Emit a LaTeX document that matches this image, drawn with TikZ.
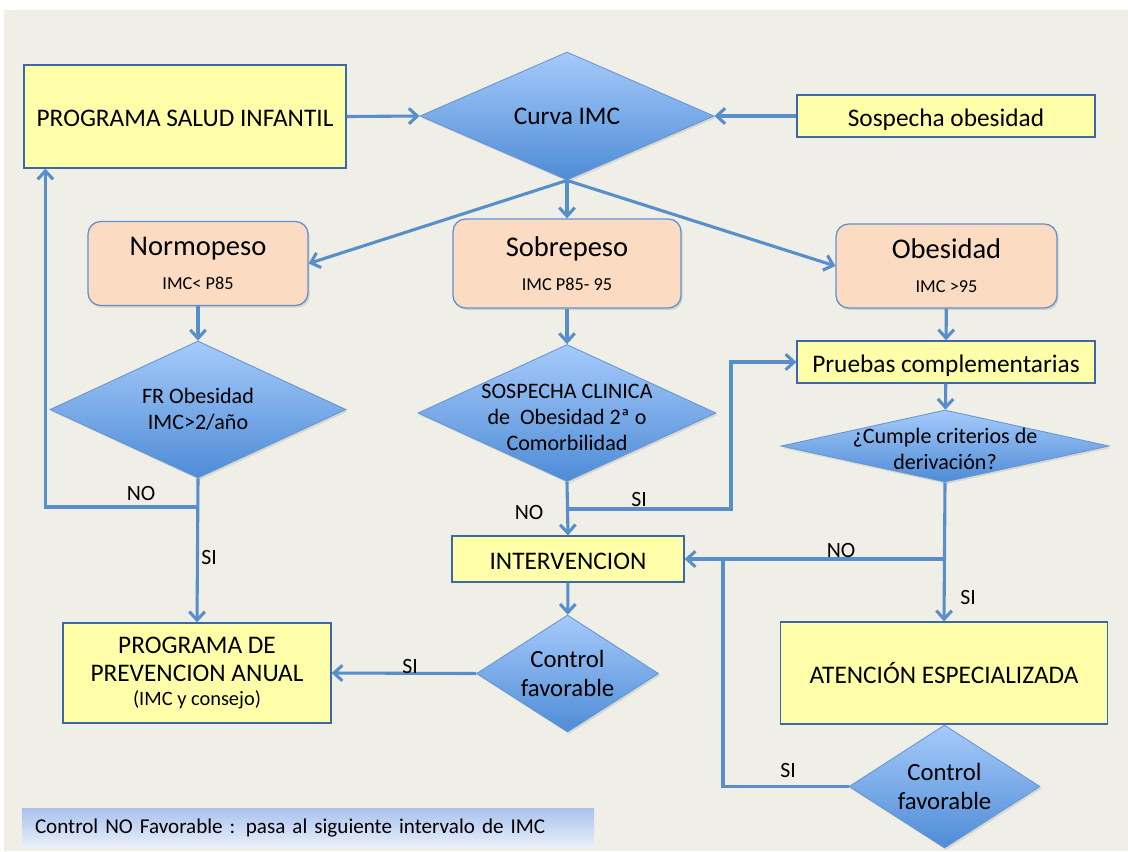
\documentclass[tikz,border=0pt]{standalone}
\usepackage{fontspec}
\setmainfont{Carlito}
\usetikzlibrary{shapes.geometric,arrows.meta,shadows}

\definecolor{bgpanel}{RGB}{239,238,231}
\definecolor{boxyellow}{RGB}{255,255,170}
\definecolor{boxedge}{RGB}{62,104,165}
\definecolor{peach}{RGB}{251,220,195}
\definecolor{peachedge}{RGB}{95,145,205}
\definecolor{diatop}{RGB}{166,202,250}
\definecolor{diabot}{RGB}{78,140,214}
\definecolor{diaedge}{RGB}{100,150,210}
\definecolor{flowblue}{RGB}{88,142,201}
\definecolor{legtop}{RGB}{168,194,238}
\definecolor{legbot}{RGB}{236,240,250}

\newcommand{\pxl}{0.025cm}

\tikzset{
  yellowbox/.style={draw=boxedge, fill=boxyellow, line width=0.9pt, inner sep=0pt,
    align=center, font=\fontsize{18}{20}\selectfont},
  oneline/.style={text height=15pt, text depth=0.6pt},
  peachbox/.style={draw=peachedge, fill=peach, rounded corners=9pt, line width=0.9pt,
    inner sep=0pt, align=center, font=\fontsize{20.3}{24}\selectfont,
    drop shadow={shadow xshift=1.2pt, shadow yshift=-1.5pt, opacity=0.25}},
  decision/.style={diamond, draw=diaedge, top color=diatop, bottom color=diabot,
    line width=0.6pt, inner sep=0pt,
    drop shadow={shadow xshift=1.2pt, shadow yshift=-1.5pt, opacity=0.2}},
  dtext/.style={align=center, font=\fontsize{15.7}{18.5}\selectfont},
  flow/.style={draw=flowblue, line width=2.2pt, -{Straight Barb[length=6pt, width=11pt]}},
  joinline/.style={draw=flowblue, line width=2.2pt},
  answer/.style={font=\fontsize{15.5}{17}\selectfont},
  legendbox/.style={top color=legtop, bottom color=legbot, draw=none, align=left,
    inner xsep=13*\pxl, inner ysep=0pt, font=\fontsize{15}{17}\selectfont},
}

\begin{document}
\begin{tikzpicture}[x=\pxl, y=-\pxl]
\useasboundingbox (0,0) rectangle (1128,851);
\fill[bgpanel] (4,10) rectangle (1128,851);

\node[yellowbox, oneline, minimum width=322*\pxl, minimum height=103*\pxl] (psi) at (185,116.5) {PROGRAMA SALUD INFANTIL};
\node[decision, minimum width=294*\pxl, minimum height=128*\pxl,
  label={[dtext, font=\fontsize{18}{20}\selectfont]center:Curva IMC}] (curva) at (567,116) {};
\node[yellowbox, oneline, minimum width=298*\pxl, minimum height=42*\pxl] (sosp) at (946,116) {Sospecha obesidad};

\node[peachbox, minimum width=220*\pxl, minimum height=84*\pxl] (normo) at (198,263.5)
  {Normopeso\\[0pt]{\fontsize{13}{15}\selectfont IMC< P85}};
\node[peachbox, minimum width=228*\pxl, minimum height=89*\pxl] (sobre) at (567,263.5)
  {Sobrepeso\\[0pt]{\fontsize{13}{15}\selectfont IMC P85- 95}};
\node[peachbox, minimum width=221*\pxl, minimum height=84*\pxl] (obes) at (946.5,266)
  {Obesidad\\[0pt]{\fontsize{13}{15}\selectfont IMC >95}};

\node[decision, minimum width=296*\pxl, minimum height=137*\pxl,
  label={[dtext]center:{FR Obesidad\\IMC>2/año}}] (fro) at (198,409.5) {};
\node[decision, minimum width=298*\pxl, minimum height=137*\pxl,
  label={[dtext, yshift=-4*\pxl]center:{SOSPECHA CLINICA\\de\ \ Obesidad 2ª o\\Comorbilidad}}] (sclin) at (567,413) {};
\node[yellowbox, oneline, minimum width=298*\pxl, minimum height=42*\pxl] (pruebas) at (946,362) {Pruebas complementarias};
\node[decision, minimum width=328*\pxl, minimum height=72*\pxl,
  label={[dtext, yshift=-3*\pxl]center:{¿Cumple criterios de\\derivación?}}] (cumple) at (945,446) {};

\node[yellowbox, oneline, minimum width=232*\pxl, minimum height=46*\pxl] (interv) at (568,559) {INTERVENCION};
\node[yellowbox, minimum width=268*\pxl, minimum height=100*\pxl] (ppa) at (197,673)
  {PROGRAMA DE\\PREVENCION ANUAL\\[-3pt]{\fontsize{14.5}{16}\selectfont (IMC y consejo)}};
\node[decision, minimum width=182*\pxl, minimum height=117*\pxl,
  label={[dtext, font=\fontsize{17.6}{20.5}\selectfont]center:{Control\\favorable}}] (ctrla) at (567.5,673.5) {};
\node[yellowbox, oneline, minimum width=327*\pxl, minimum height=102*\pxl] (aten) at (944,673) {ATENCIÓN ESPECIALIZADA};
\node[decision, minimum width=191*\pxl, minimum height=123*\pxl,
  label={[dtext, font=\fontsize{17.6}{20.5}\selectfont]center:{Control\\favorable}}] (ctrlb) at (944.5,786.5) {};

\node[legendbox, minimum height=40*\pxl, text width=546*\pxl] (leg) at (308,828)
  {Control NO Favorable : pasa al siguiente intervalo de IMC};

\coordinate (frono) at (198,507);
\coordinate (sclsi) at (567,509);
\coordinate (cumno) at (945,559);
\coordinate (backsi) at (723,559);

\draw[flow] (psi.east) -- (curva.west);
\draw[flow] (sosp.west) -- (curva.east);
\draw[flow] (curva.south) -- (normo.east);
\draw[flow] (curva.south) -- (sobre.north);
\draw[flow] (curva.south) -- (obes.west);
\draw[flow] (normo) -- (fro);
\draw[flow] (sobre) -- (sclin);
\draw[flow] (obes) -- (pruebas);
\draw[flow] (pruebas) -- (cumple);
\draw[flow] (fro.south) -- (ppa.north);
\draw[flow] (frono) -| ([xshift=22*\pxl]psi.south west);
\draw[flow] (sclin.south) -- (interv.north);
\draw[flow] (sclsi) -- (731,509) |- (pruebas.west);
\draw[flow] (interv) -- (ctrla);
\draw[flow] (ctrla.west) -- (ppa.east);
\draw[flow] (cumple.south) -- (aten.north);
\draw[flow] (cumno) -- (interv.east);
\draw[joinline] (ctrlb.west) -| (backsi);

\node[answer] (noa) at (141,493) {NO};
\node[answer] (sia) at (209,557) {SI};
\node[answer] (nob) at (529,512) {NO};
\node[answer] (sib) at (639,499) {SI};
\node[answer] (noc) at (841,550) {NO};
\node[answer] (sic) at (968,597) {SI};
\node[answer] (sid) at (410,666) {SI};
\node[answer] (sie) at (788,770) {SI};
\end{tikzpicture}
\end{document}
